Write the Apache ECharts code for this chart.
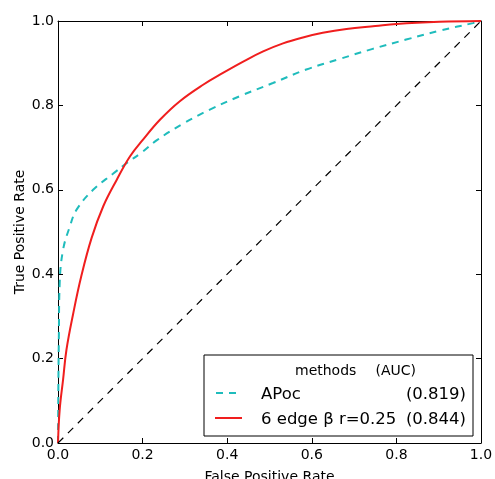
<!DOCTYPE html>
<html>
<head>
<meta charset="utf-8">
<script src="https://cdn.jsdelivr.net/npm/echarts@6/dist/echarts.min.js"></script>
<style>
html,body{margin:0;padding:0;background:#fff;}
#chart{width:495px;height:479px;}
</style>
</head>
<body>
<div id="chart"></div>
<script>
var axisTicks = [0.0, 0.2, 0.4, 0.6, 0.8, 1.0];
var seriesNames = ['APoc', '6 edge \u03b2 r=0.25'];
var aucValues = ['(0.819)', '(0.844)'];
var apocFpr = [0, 0.001, 0.002, 0.004, 0.012, 0.028, 0.044, 0.083, 0.13, 0.162, 0.2, 0.233, 0.296, 0.359, 0.43, 0.508, 0.587, 0.666, 0.744, 0.823, 0.902, 0.981, 1];
var apocTpr = [0, 0.15, 0.25, 0.379, 0.458, 0.513, 0.553, 0.600, 0.638, 0.663, 0.690, 0.717, 0.757, 0.790, 0.822, 0.853, 0.885, 0.910, 0.934, 0.956, 0.977, 0.995, 1];
var edgeFpr = [0, 0.004, 0.012, 0.020, 0.036, 0.055, 0.0795, 0.107, 0.139, 0.170, 0.201, 0.241, 0.288, 0.343, 0.390, 0.440, 0.485, 0.532, 0.579, 0.626, 0.682, 0.75, 0.80, 0.902, 1];
var edgeTpr = [0, 0.079, 0.15, 0.221, 0.307, 0.395, 0.486, 0.561, 0.624, 0.679, 0.719, 0.766, 0.810, 0.849, 0.877, 0.905, 0.928, 0.947, 0.961, 0.972, 0.981, 0.988, 0.993, 0.998, 1];
var diagX = [0, 1];
var diagY = [0, 1];

function pairs(xs, ys) { return xs.map(function (x, i) { return [x, ys[i]]; }); }
var FONT = 'DejaVu Sans';
var CYAN = '#1fbcbc';
var RED = '#f01e1e';

var chart = echarts.init(document.getElementById('chart'), null, { renderer: 'canvas' });

function baseAxis(extra) {
  var a = {
    type: 'value', min: axisTicks[0], max: axisTicks[axisTicks.length - 1], interval: 0.2,
    axisLine: { show: true, onZero: false, lineStyle: { color: '#000', width: 1 } },
    axisTick: { show: true, inside: true, length: 5, lineStyle: { color: '#000', width: 1 } },
    splitLine: { show: false },
    axisLabel: { show: false }
  };
  for (var k in extra) a[k] = extra[k];
  return a;
}

var option = {
  animation: false,
  backgroundColor: '#fff',
  grid: { left: 58, right: 14, top: 21, bottom: 36, containLabel: false, outerBoundsMode: 'none' },
  xAxis: [
    baseAxis({
      position: 'bottom',
      name: 'False Positive Rate', nameLocation: 'middle', nameGap: 27, nameMoveOverlap: false,
      nameTextStyle: { fontFamily: FONT, fontSize: 14, color: '#000' },
      axisLabel: { show: true, margin: 5, fontFamily: FONT, fontSize: 14, color: '#000',
        formatter: function (v) { return v.toFixed(1); } }
    }),
    baseAxis({ position: 'top' })
  ],
  yAxis: [
    baseAxis({
      position: 'left',
      name: 'True Positive Rate', nameLocation: 'middle', nameGap: 31, nameMoveOverlap: false,
      nameTextStyle: { fontFamily: FONT, fontSize: 14, color: '#000' },
      axisLabel: { show: true, margin: 4, fontFamily: FONT, fontSize: 14, color: '#000',
        formatter: function (v) { return v.toFixed(1); } }
    }),
    baseAxis({ position: 'right' })
  ],
  legend: {
    show: true,
    data: seriesNames,
    orient: 'vertical',
    left: 215, top: 386,
    padding: 0,
    itemWidth: 27, itemHeight: 14, itemGap: 8,
    z: 6,
    itemStyle: { opacity: 0 },
    lineStyle: { opacity: 0 },
    formatter: function (name) {
      var i = seriesNames.indexOf(name);
      return '{s|}{n|' + name + '}{a|' + aucValues[i] + '}';
    },
    textStyle: {
      fontFamily: FONT, fontSize: 16.5, color: '#000',
      rich: {
        s: { width: 13, lineHeight: 20 },
        n: { width: 142, fontFamily: FONT, fontSize: 16.5, lineHeight: 20, color: '#000' },
        a: { width: 63, align: 'right', fontFamily: FONT, fontSize: 16.5, lineHeight: 20, color: '#000' }
      }
    }
  },
  graphic: [
    { type: 'rect', z: 5, shape: { x: 204, y: 355, width: 269, height: 81 },
      style: { fill: '#fff', stroke: '#000', lineWidth: 1 } },
    { type: 'text', z: 6, x: 295, y: 371,
      style: { text: 'methods', fontFamily: FONT, fontSize: 14, fill: '#000', verticalAlign: 'middle' } },
    { type: 'text', z: 6, x: 375.5, y: 371,
      style: { text: '(AUC)', fontFamily: FONT, fontSize: 14, fill: '#000', verticalAlign: 'middle' } },
    { type: 'line', z: 7, shape: { x1: 216, y1: 393, x2: 242, y2: 393 },
      style: { stroke: CYAN, lineWidth: 2, lineDash: [7, 6] } },
    { type: 'line', z: 7, shape: { x1: 215, y1: 418, x2: 242, y2: 418 },
      style: { stroke: RED, lineWidth: 2 } }
  ],
  series: [
    {
      name: seriesNames[0], type: 'line', data: pairs(apocFpr, apocTpr),
      symbol: 'none', smooth: 0.4, z: 2,
      lineStyle: { color: CYAN, width: 2, type: [7, 6] },
      itemStyle: { color: CYAN }
    },
    {
      name: seriesNames[1], type: 'line', data: pairs(edgeFpr, edgeTpr),
      symbol: 'none', smooth: 0.4, z: 3,
      lineStyle: { color: RED, width: 2 },
      itemStyle: { color: RED }
    },
    {
      name: 'diagonal', type: 'line', data: pairs(diagX, diagY),
      symbol: 'none', z: 3,
      lineStyle: { color: '#000', width: 1.2, type: [7.5, 6.5] }
    }
  ]
};
chart.setOption(option);
</script>
</body>
</html>
